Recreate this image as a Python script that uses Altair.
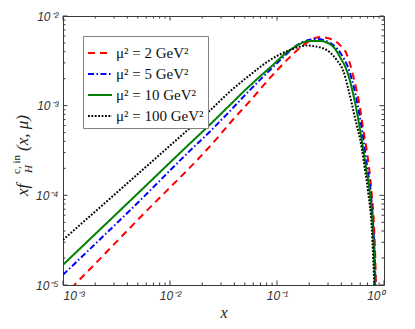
import altair as alt
import pandas as pd

# ---------------- data ----------------
series_names = ["μ² = 2 GeV²", "μ² = 5 GeV²", "μ² = 10 GeV²", "μ² = 100 GeV²"]

x_mu2_2 = [0.001, 0.00525, 0.0293, 0.0364, 0.0560, 0.0861, 0.1321, 0.1762, 0.2523, 0.3357,
           0.3880, 0.4477, 0.5160, 0.5970, 0.6412, 0.6887, 0.7294, 0.7667, 0.8072, 0.8299, 0.8414]
y_mu2_2 = [7.4e-6, 5.66e-5, 4.72e-4, 6.41e-4, 1.13e-3, 2.04e-3, 3.48e-3, 4.74e-3, 5.82e-3, 5.40e-3,
           4.74e-3, 3.77e-3, 2.14e-3, 9.42e-4, 5.36e-4, 3.21e-4, 1.92e-4, 1.06e-4, 4.5e-5, 1.91e-5, 1.0e-5]

x_mu2_5 = [0.001, 0.00525, 0.01538, 0.02366, 0.0364, 0.0560, 0.0861, 0.1146, 0.1641, 0.2351, 0.3357,
           0.4027, 0.4639, 0.5248, 0.5837, 0.6430, 0.6982, 0.7534, 0.7943, 0.8204, 0.8337]
y_mu2_5 = [1.30e-5, 8.77e-5, 3.15e-4, 5.16e-4, 8.73e-4, 1.50e-3, 2.50e-3, 3.48e-3, 4.96e-3, 5.53e-3, 4.74e-3,
           3.67e-3, 2.63e-3, 1.57e-3, 8.51e-4, 4.15e-4, 2.02e-4, 1.06e-4, 4.5e-5, 1.91e-5, 1.0e-5]

x_mu2_10 = [0.001, 0.00525, 0.01538, 0.02366, 0.0364, 0.0560, 0.0861, 0.1321, 0.2033, 0.2523,
            0.3357, 0.3880, 0.4508, 0.5129, 0.5715, 0.6297, 0.6842, 0.7396, 0.7834, 0.8110, 0.8241]
y_mu2_10 = [1.68e-5, 1.11e-4, 3.79e-4, 6.16e-4, 1.02e-3, 1.68e-3, 2.66e-3, 4.17e-3, 5.26e-3, 5.26e-3,
            4.54e-3, 3.48e-3, 2.43e-3, 1.38e-3, 7.29e-4, 3.65e-4, 1.92e-4, 1.06e-4, 4.5e-5, 1.91e-5, 1.0e-5]

x_mu2_100 = [0.001, 0.00525, 0.01538, 0.02366, 0.0364, 0.0560, 0.0861, 0.1321, 0.1897, 0.2710,
             0.3614, 0.4169, 0.4639, 0.5357, 0.6190, 0.6644, 0.7130, 0.7667, 0.7943, 0.8110]
y_mu2_100 = [3.19e-5, 1.82e-4, 5.64e-4, 8.85e-4, 1.44e-3, 2.20e-3, 3.23e-3, 4.17e-3, 4.68e-3, 4.35e-3,
             3.23e-3, 2.43e-3, 1.53e-3, 7.29e-4, 3.38e-4, 1.92e-4, 1.06e-4, 4.5e-5, 1.91e-5, 1.0e-5]

line_colors = ["#ff0000", "#0000ff", "#008000", "#000000"]
line_dashes = [[7, 5], [6, 2.5, 1.5, 2.5], [1, 0], [1.8, 1.6]]

x_major = [0.001, 0.01, 0.1, 1.0]
x_labels = ["10⁻³", "10⁻²", "10⁻¹", "10⁰"]
y_major = [1e-5, 1e-4, 1e-3, 1e-2]
y_labels = ["10⁻⁵", "10⁻⁴", "10⁻³", "10⁻²"]
x_minor = [m * d for d in [0.001, 0.01, 0.1] for m in range(2, 10)]
y_minor = [m * d for d in [1e-5, 1e-4, 1e-3] for m in range(2, 10)]

# ---------------- build table ----------------
rows = []
for name, xs, ys in zip(series_names,
                        [x_mu2_2, x_mu2_5, x_mu2_10, x_mu2_100],
                        [y_mu2_2, y_mu2_5, y_mu2_10, y_mu2_100]):
    for i, (a, b) in enumerate(zip(xs, ys)):
        rows.append({"series": name, "x": a, "y": b, "order": i})
df = pd.DataFrame(rows)

W, H = 321, 269
AX = "#3a3a3a"
xscale = alt.Scale(type="log", domain=[1e-3, 1], nice=False)
yscale = alt.Scale(type="log", domain=[1e-5, 1e-2], nice=False)

def lab_expr(labels, offset):
    arr = "[" + ",".join("'" + s + "'" for s in labels) + "]"
    return f"{arr}[round(log(datum.value)/LN10) + {offset}]"

x_axis = alt.Axis(values=x_major, labelExpr=lab_expr(x_labels, 3), ticks=False, domain=False,
                  grid=False, labelFont="Liberation Sans", labelFontStyle="italic",
                  labelFontSize=12, labelColor="#333333", labelPadding=5,
                  title="x", titleFont="Liberation Serif", titleFontStyle="italic",
                  titleFontSize=16, titleFontWeight="normal", titleColor="#222222",
                  titlePadding=3)
y_axis = alt.Axis(values=y_major, labelExpr=lab_expr(y_labels, 5), ticks=False, domain=False,
                  grid=False, labelFont="Liberation Sans", labelFontStyle="italic",
                  labelFontSize=12, labelColor="#333333", labelPadding=5, title=None)

legend = alt.Legend(title=None, orient="none", legendX=20, legendY=20,
                    symbolType="stroke", symbolSize=576, symbolStrokeWidth=2,
                    labelFont="Liberation Serif", labelFontSize=15, labelColor="#111111",
                    padding=4, rowPadding=0, labelOffset=3,
                    strokeColor="#808080", fillColor="white")

lines = alt.Chart(df).mark_line(clip=True, strokeWidth=2, interpolate="monotone").encode(
    x=alt.X("x:Q", scale=xscale, axis=x_axis),
    y=alt.Y("y:Q", scale=yscale, axis=y_axis),
    color=alt.Color("series:N", sort=series_names,
                    scale=alt.Scale(domain=series_names, range=line_colors), legend=legend),
    strokeDash=alt.StrokeDash("series:N", sort=series_names,
                              scale=alt.Scale(domain=series_names, range=line_dashes), legend=legend),
    order=alt.Order("order:Q"),
)

xmaj = pd.DataFrame({"x": x_major})
xmin = pd.DataFrame({"x": x_minor})
ymaj = pd.DataFrame({"y": y_major})
ymin = pd.DataFrame({"y": y_minor})

def xticks(d, y0, y1):
    return alt.Chart(d).mark_rule(color=AX, strokeWidth=1).encode(
        x=alt.X("x:Q", scale=xscale, axis=x_axis), y=alt.value(y0), y2=alt.value(y1))

def yticks(d, x0, x1):
    return alt.Chart(d).mark_rule(color=AX, strokeWidth=1).encode(
        y=alt.Y("y:Q", scale=yscale, axis=y_axis), x=alt.value(x0), x2=alt.value(x1))

ticks = [
    xticks(xmaj, H, H - 4.5), xticks(xmin, H, H - 2.5),
    xticks(xmaj, 0, 4.5), xticks(xmin, 0, 2.5),
    yticks(ymaj, 0, 4.5), yticks(ymin, 0, 2.5),
    yticks(ymaj, W, W - 4.5), yticks(ymin, W, W - 2.5),
]

blank = alt.Data(values=[{}])

def ytitle(txt, x, y, size, style="italic"):
    return alt.Chart(blank).mark_text(text=txt, angle=270, align="left", baseline="alphabetic",
                                      font="Liberation Serif", fontStyle=style, fontSize=size,
                                      color="#222222").encode(x=alt.value(x), y=alt.value(y))

titles = [
    ytitle("xf", -35, 180, 17),
    ytitle("c, in", -43, 158, 11, "normal"),
    ytitle("H", -31, 157, 11),
    ytitle("(x, μ)", -35, 135, 17),
]

chart = alt.layer(lines, *ticks, *titles).properties(
    width=W, height=H, autosize="none",
    padding={"left": 55, "top": 8, "right": 23, "bottom": 36},
).configure_view(stroke=AX, strokeWidth=1)

chart.save("out.html", embed_options={"renderer": "svg", "actions": False})
